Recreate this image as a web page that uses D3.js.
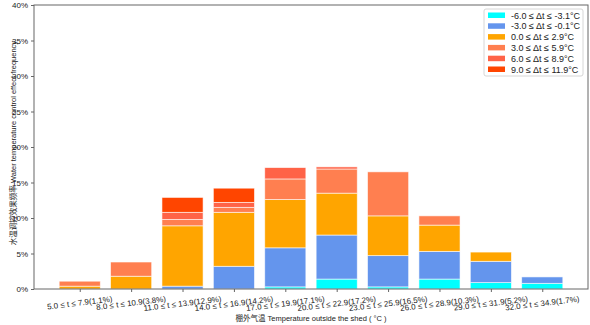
<!DOCTYPE html>
<html>
<head>
<meta charset="utf-8">
<script src="https://cdn.jsdelivr.net/npm/d3@7"></script>
<style>
  body { margin: 0; background: #fff; }
  text { font-family: "Liberation Sans", Arial, "Noto Sans CJK SC", sans-serif; }
</style>
</head>
<body>
<script>
const width = 590;
const height = 325;

// categories (outside temperature ranges)
const categories = [
    "5.0 ≤ t ≤ 7.9(1.1%)", "8.0 ≤ t ≤ 10.9(3.8%)", "11.0 ≤ t ≤ 13.9(12.9%)",
    "14.0 ≤ t ≤ 16.9(14.2%)", "17.0 ≤ t ≤ 19.9(17.1%)", "20.0 ≤ t ≤ 22.9(17.2%)",
    "23.0 ≤ t ≤ 25.9(16.5%)", "26.0 ≤ t ≤ 28.9(10.3%)", "29.0 ≤ t ≤ 31.9(5.2%)",
    "32.0 ≤ t ≤ 34.9(1.7%)"
];

// series: water temperature control effect Δt
const seriesNames = [
    "-6.0 ≤  Δt ≤ -3.1°C", "-3.0 ≤  Δt ≤ -0.1°C", "0.0 ≤  Δt ≤ 2.9°C",
    "3.0 ≤  Δt ≤ 5.9°C", "6.0 ≤  Δt ≤ 8.9°C", "9.0 ≤  Δt ≤ 11.9°C"
];
const seriesColors = ["#00FFFF", "#6495ED", "#FFA500", "#FF7F50", "#FF6347", "#FF4500"];

// values in % per series
const cyanVals   = [0, 0, 0, 0, 0.3, 1.4, 0.3, 1.4, 0.9, 0.8];
const blueVals   = [0, 0, 0.4, 3.2, 5.5, 6.2, 4.4, 3.9, 3.0, 0.9];
const orangeVals = [0.4, 1.8, 8.5, 7.6, 6.8, 5.9, 5.6, 3.7, 1.3, 0];
const coralVals  = [0.7, 2.0, 0.9, 0.7, 2.9, 3.4, 6.2, 1.3, 0, 0];
const tomatoVals = [0, 0, 1.0, 0.7, 1.6, 0.3, 0, 0, 0, 0];
const redVals    = [0, 0, 2.1, 2.0, 0, 0, 0, 0, 0, 0];

const yTicks = [0, 5, 10, 15, 20, 25, 30, 35, 40];

const allVals = [cyanVals, blueVals, orangeVals, coralVals, tomatoVals, redVals];
const table = categories.map((c, i) => {
    let row = { cat: i };
    allVals.forEach((v, s) => row["s" + s] = v[i]);
    return row;
});
const keys = allVals.map((v, s) => "s" + s);

const x0 = 34, x1 = 588, y0 = 289, y1 = 5;

let svg = d3.select("body").append("svg")
    .attr("width", width)
    .attr("height", height);

// matplotlib-like x limits (bar width 0.8, 5% margins)
let xScale = d3.scaleLinear().domain([-0.89, 9.89]).range([x0, x1]);
let yScale = d3.scaleLinear().domain([0, 40]).range([y0, y1]);
const barW = xScale(0.8) - xScale(0);

let stacked = d3.stack().keys(keys)(table);

svg.append("g").selectAll("g")
    .data(stacked)
    .enter().append("g")
    .attr("fill", (d, i) => seriesColors[i])
    .selectAll("rect")
    .data(d => d.filter(p => p[1] - p[0] > 0))
    .enter().append("rect")
    .attr("x", d => xScale(d.data.cat) - barW / 2)
    .attr("width", barW)
    .attr("y", d => yScale(d[1]))
    .attr("height", d => yScale(d[0]) - yScale(d[1]))
    .attr("stroke", "white")
    .attr("stroke-opacity", 0.7)
    .attr("stroke-width", 0.8);

// frame
svg.append("rect")
    .attr("x", x0).attr("y", y1)
    .attr("width", x1 - x0).attr("height", y0 - y1)
    .attr("fill", "none")
    .attr("stroke", "#666")
    .attr("stroke-width", 1);

// y axis
let yAxis = svg.append("g")
    .attr("transform", `translate(${x0},0)`)
    .call(d3.axisLeft(yScale).tickValues(yTicks).tickSize(3).tickPadding(3).tickFormat(d => d + "%"));
yAxis.select(".domain").remove();
yAxis.selectAll(".tick line").attr("stroke", "#666");
yAxis.selectAll(".tick text")
    .attr("font-size", 8)
    .attr("fill", "#222")
    .style("font-family", "Liberation Sans, Arial, sans-serif");

// x axis ticks
let xAxis = svg.append("g")
    .attr("transform", `translate(0,${y0})`)
    .call(d3.axisBottom(xScale).tickValues(d3.range(categories.length)).tickSize(3).tickFormat(""));
xAxis.select(".domain").remove();
xAxis.selectAll(".tick line").attr("stroke", "#666");

// rotated x tick labels, bbox top aligned just below ticks
const rotDeg = 7;
const rot = rotDeg * Math.PI / 180;
categories.forEach((c, i) => {
    let t = svg.append("text")
        .attr("font-size", 8)
        .attr("fill", "#222")
        .attr("text-anchor", "middle")
        .attr("dominant-baseline", "central")
        .text(c);
    let w = t.node().getComputedTextLength();
    let bh = w * Math.sin(rot) + 8 * Math.cos(rot);
    let cx = xScale(i);
    let cy = y0 + 6 + bh / 2;
    t.attr("transform", `translate(${cx},${cy}) rotate(${-rotDeg})`);
});

// axis titles
svg.append("text")
    .attr("x", (x0 + x1) / 2)
    .attr("y", 321)
    .attr("text-anchor", "middle")
    .attr("font-size", 7.5)
    .attr("fill", "#222")
    .text("棚外气温 Temperature outside the shed ( °C )");

svg.append("text")
    .attr("transform", `translate(16,143) rotate(-90)`)
    .attr("text-anchor", "middle")
    .attr("font-size", 7.5)
    .attr("fill", "#222")
    .text("水温调控效果频率 Water temperature control effect frequency");

// legend
let legend = svg.append("g").attr("transform", "translate(484,9)");
legend.append("rect")
    .attr("width", 99).attr("height", 67)
    .attr("fill", "white")
    .attr("stroke", "#ccc")
    .attr("stroke-width", 0.8)
    .attr("rx", 2);
seriesNames.forEach((n, i) => {
    let g = legend.append("g").attr("transform", `translate(0,${6 + i * 10.8})`);
    g.append("rect")
        .attr("x", 4).attr("y", -2.5)
        .attr("width", 17).attr("height", 5.5)
        .attr("fill", seriesColors[i]);
    g.append("text")
        .attr("x", 27).attr("y", 0.5)
        .attr("dominant-baseline", "central")
        .attr("font-size", 9)
        .attr("fill", "#222")
        .text(n);
});
</script>
</body>
</html>
